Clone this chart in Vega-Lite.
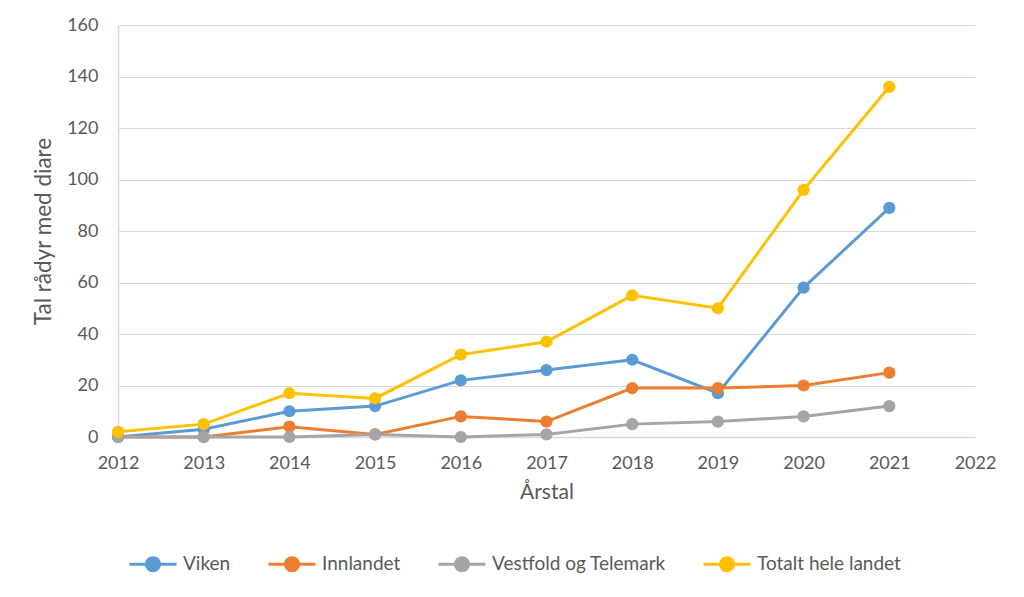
{
  "$schema": "https://vega.github.io/schema/vega-lite/v6.json",
  "width": 857,
  "height": 412,
  "autosize": {"type": "none"},
  "padding": {"left": 118, "top": 25, "right": 49, "bottom": 160},
  "background": "white",
  "config": {
    "font": "Lato",
    "view": {"stroke": null},
    "axis": {"labelColor": "#595959", "titleColor": "#595959", "labelFontSize": 18, "titleFontSize": 21, "titleFontWeight": "normal", "labelFont": "Lato", "titleFont": "Lato"}
  },
  "data": {
    "values": [
      {"serie": "Viken", "year": 2012, "value": 0},
      {"serie": "Viken", "year": 2013, "value": 3},
      {"serie": "Viken", "year": 2014, "value": 10},
      {"serie": "Viken", "year": 2015, "value": 12},
      {"serie": "Viken", "year": 2016, "value": 22},
      {"serie": "Viken", "year": 2017, "value": 26},
      {"serie": "Viken", "year": 2018, "value": 30},
      {"serie": "Viken", "year": 2019, "value": 17},
      {"serie": "Viken", "year": 2020, "value": 58},
      {"serie": "Viken", "year": 2021, "value": 89},
      {"serie": "Innlandet", "year": 2012, "value": 0},
      {"serie": "Innlandet", "year": 2013, "value": 0},
      {"serie": "Innlandet", "year": 2014, "value": 4},
      {"serie": "Innlandet", "year": 2015, "value": 1},
      {"serie": "Innlandet", "year": 2016, "value": 8},
      {"serie": "Innlandet", "year": 2017, "value": 6},
      {"serie": "Innlandet", "year": 2018, "value": 19},
      {"serie": "Innlandet", "year": 2019, "value": 19},
      {"serie": "Innlandet", "year": 2020, "value": 20},
      {"serie": "Innlandet", "year": 2021, "value": 25},
      {"serie": "Vestfold og Telemark", "year": 2012, "value": 0},
      {"serie": "Vestfold og Telemark", "year": 2013, "value": 0},
      {"serie": "Vestfold og Telemark", "year": 2014, "value": 0},
      {"serie": "Vestfold og Telemark", "year": 2015, "value": 1},
      {"serie": "Vestfold og Telemark", "year": 2016, "value": 0},
      {"serie": "Vestfold og Telemark", "year": 2017, "value": 1},
      {"serie": "Vestfold og Telemark", "year": 2018, "value": 5},
      {"serie": "Vestfold og Telemark", "year": 2019, "value": 6},
      {"serie": "Vestfold og Telemark", "year": 2020, "value": 8},
      {"serie": "Vestfold og Telemark", "year": 2021, "value": 12},
      {"serie": "Totalt hele landet", "year": 2012, "value": 2},
      {"serie": "Totalt hele landet", "year": 2013, "value": 5},
      {"serie": "Totalt hele landet", "year": 2014, "value": 17},
      {"serie": "Totalt hele landet", "year": 2015, "value": 15},
      {"serie": "Totalt hele landet", "year": 2016, "value": 32},
      {"serie": "Totalt hele landet", "year": 2017, "value": 37},
      {"serie": "Totalt hele landet", "year": 2018, "value": 55},
      {"serie": "Totalt hele landet", "year": 2019, "value": 50},
      {"serie": "Totalt hele landet", "year": 2020, "value": 96},
      {"serie": "Totalt hele landet", "year": 2021, "value": 136}
    ]
  },
  "mark": {"type": "line", "strokeWidth": 3, "point": {"size": 150, "filled": true, "opacity": 1}},
  "encoding": {
    "x": {
      "field": "year", "type": "quantitative",
      "scale": {"domain": [2012, 2022], "nice": false},
      "axis": {"values": [2012, 2013, 2014, 2015, 2016, 2017, 2018, 2019, 2020, 2021, 2022], "format": "d", "grid": false, "ticks": false, "labelFlush": false, "labelOverlap": false, "domainColor": "#D9D9D9", "domainWidth": 1.5, "labelPadding": 17, "title": "Årstal", "titlePadding": 9}
    },
    "y": {
      "field": "value", "type": "quantitative",
      "scale": {"domain": [0, 160], "nice": false},
      "axis": {"values": [0, 20, 40, 60, 80, 100, 120, 140, 160], "grid": true, "gridColor": "#D9D9D9", "gridWidth": 1.2, "ticks": false, "labelFlush": false, "domain": true, "domainColor": "#D9D9D9", "domainWidth": 1.5, "labelPadding": 20, "title": "Tal rådyr med diare", "titleFontSize": 22.5, "titlePadding": 11}
    },
    "color": {
      "field": "serie", "type": "nominal",
      "scale": {"domain": ["Viken", "Innlandet", "Vestfold og Telemark", "Totalt hele landet"], "range": ["#5B9BD5", "#ED7D31", "#A5A5A5", "#FFC000"]},
      "legend": {
        "title": null,
        "orient": "none",
        "direction": "horizontal",
        "legendX": 10,
        "legendY": 514,
        "labelFontSize": 19,
        "labelLimit": 400,
        "labelColor": "#595959",
        "labelFont": "Lato",
        "labelOffset": 5,
        "columnPadding": 31,
        "symbolType": "M-1,0H1M0.28,0A0.28,0.28,0,1,1,-0.28,0A0.28,0.28,0,1,1,0.28,0Z",
        "symbolSize": 2209,
        "symbolStrokeWidth": 3,
        "encode": {"symbols": {"update": {"fill": {"scale": "color", "field": "value"}, "stroke": {"scale": "color", "field": "value"}, "opacity": {"value": 1}}}}
      }
    }
  }
}
